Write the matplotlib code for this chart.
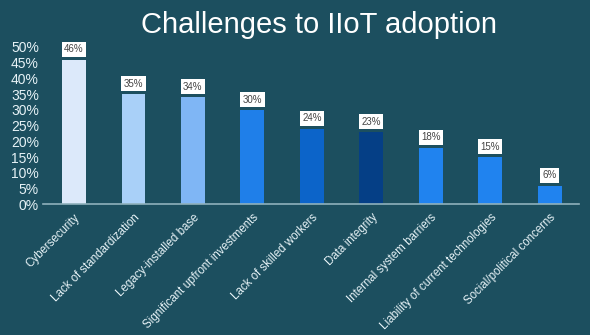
import matplotlib
matplotlib.use('Agg')
import matplotlib.pyplot as plt

categories = ['Cybersecurity', 'Lack of standardization', 'Legacy-installed base',
              'Significant upfront investments', 'Lack of skilled workers',
              'Data integrity', 'Internal system barriers',
              'Liability of current technologies', 'Social/political concerns']
values = [46, 35, 34, 30, 24, 23, 18, 15, 6]
bar_colors = ['#dce9fa', '#a9d0f8', '#7fb6f5', '#1f7fe9', '#0c64c9',
              '#053f86', '#2083ef', '#2083ef', '#2083ef']
y_ticks = list(range(0, 51, 5))

bg = '#1c4f5f'
plt.rcParams['font.family'] = ['Liberation Sans', 'DejaVu Sans']

fig = plt.figure(figsize=(5.9, 3.35), dpi=100, facecolor=bg)
ax = fig.add_axes([0.073, 0.3896, 0.908, 0.4704])
ax.set_facecolor(bg)

x = list(range(len(categories)))
ax.bar(x, values, width=0.4, color=bar_colors, zorder=2)

# white value boxes above each bar
for xi, v in zip(x, values):
    ax.annotate(f'{v}%', (xi, v), xytext=(0, 7.5), textcoords='offset points',
                ha='center', va='center', fontsize=7, color='#444444',
                bbox=dict(boxstyle='square,pad=0.25', fc='white', ec='none'))

ax.set_xlim(-0.52, 8.49)
ax.set_ylim(0, 50)
ax.set_yticks(y_ticks)
ax.set_yticklabels([f'{t}%' for t in y_ticks], fontsize=10, color='#e6f2f6')
ax.set_xticks(x)
ax.set_xticklabels(categories, rotation=45, ha='right', rotation_mode='anchor',
                   fontsize=8.3, color='#e6f2f6')
ax.tick_params(axis='both', length=0, pad=3)
ax.tick_params(axis='x', pad=5)

for s in ['top', 'right', 'left']:
    ax.spines[s].set_visible(False)
ax.spines['bottom'].set_color('#8fb1bc')
ax.spines['bottom'].set_linewidth(1.2)

fig.text(0.54, 0.925, 'Challenges to IIoT adoption', ha='center', va='center',
         fontsize=21, color='white')

plt.savefig('out.png', dpi=100, facecolor=bg)
